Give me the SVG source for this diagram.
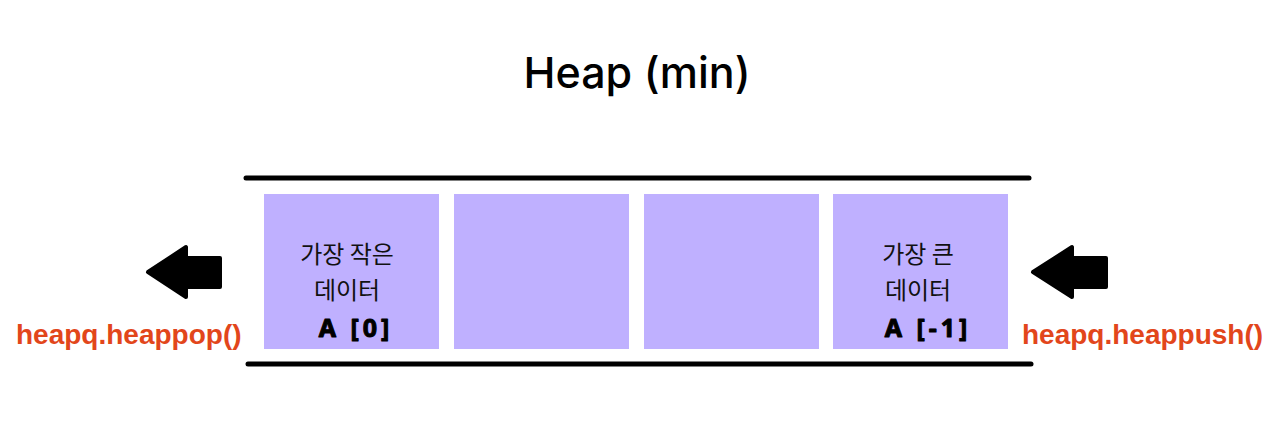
<svg xmlns="http://www.w3.org/2000/svg" width="1280" height="443" viewBox="0 0 1280 443">
<style>
.line{stroke:#000;stroke-width:5;stroke-linecap:round}
.box{fill:#bfb0ff}
.ko{font-family:"Noto Sans CJK KR","Noto Sans",sans-serif;font-size:24px;fill:#111;text-anchor:middle}
.idx{font-family:"Noto Sans","DejaVu Sans",sans-serif;font-size:25px;font-weight:bold;fill:#000;stroke:#000;stroke-width:1;stroke-linejoin:round;letter-spacing:4px;text-anchor:middle}
.fn{font-family:"Liberation Sans",Arial,sans-serif;font-size:28px;font-weight:bold;fill:#e2461b}
.title{font-family:Inter,"Liberation Sans",sans-serif;font-size:43px;font-weight:500;fill:#000;text-anchor:middle}
.arrow{fill:#000;stroke:#000;stroke-width:4;stroke-linejoin:round}
</style>
<rect width="1280" height="443" fill="#fff"/>
<g id="title"><text class="title" x="637" y="88">Heap (min)</text></g>
<g id="frame">
<line class="line" x1="246" y1="178" x2="1029" y2="178"/>
<line class="line" x1="248" y1="364" x2="1031" y2="364"/>
</g>
<g id="box1"><rect class="box" x="264" y="194" width="175" height="155"/>
<text class="ko" x="347" y="263">가장 작은</text>
<text class="ko" x="347" y="299">데이터</text>
<text class="idx" x="356" y="337">A [0]</text></g>
<g id="box2"><rect class="box" x="454" y="194" width="175" height="155"/></g>
<g id="box3"><rect class="box" x="644" y="194" width="175" height="155"/></g>
<g id="box4"><rect class="box" x="833" y="194" width="175" height="155"/>
<text class="ko" x="918" y="263">가장 큰</text>
<text class="ko" x="918" y="299">데이터</text>
<text class="idx" x="928" y="337">A [-1]</text></g>
<g id="connectors">
<path class="arrow" d="M148 272 L186 247 L186 258 L220 258 L220 287 L186 287 L186 297 Z"/>
<path class="arrow" d="M1033 272 L1072 247 L1072 258 L1106 258 L1106 287 L1072 287 L1072 297 Z"/>
</g>
<g id="labels">
<text class="fn" x="16" y="344">heapq.heappop()</text>
<text class="fn" x="1022" y="344">heapq.heappush()</text>
</g>
</svg>
